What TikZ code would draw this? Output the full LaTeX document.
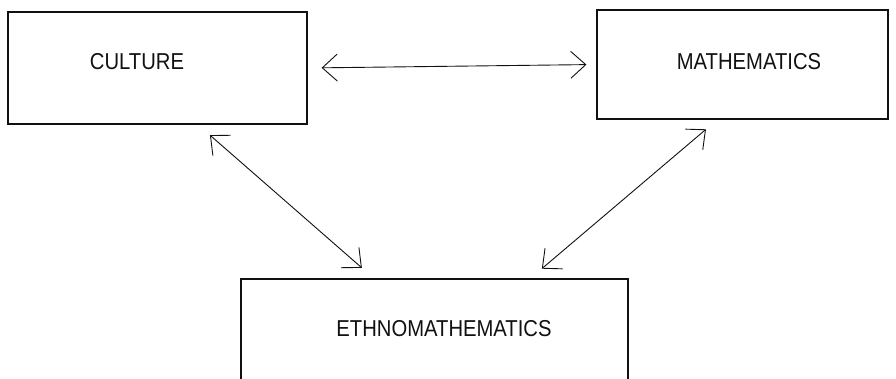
\documentclass[tikz,border=0pt]{standalone}
\usepackage{fontspec}
\setmainfont[FakeStretch=0.88]{Liberation Sans}
\usepackage{tikz}
\usetikzlibrary{arrows.meta,positioning,calc}
\definecolor{Ink}{HTML}{111111}
\tikzset{
  box/.style={draw=Ink,line width=1.2pt,fill=white,inner sep=0pt},
  lbl/.style={font=\fontsize{23}{26}\selectfont,text=Ink,inner sep=0pt},
  both/.style={{Straight Barb[length=15pt,width=27pt]}-{Straight Barb[length=15pt,width=27pt]},line width=0.9pt,draw=Ink}
}
\begin{document}
\begin{tikzpicture}[x=1pt,y=1pt]
\useasboundingbox (0,0) rectangle (896,379);
% boxes
\node[box,minimum width=299pt,minimum height=112pt] (culture) at (157.5,311) {};
\node[box,minimum width=291pt,minimum height=109pt] (math) at (742.5,314.5) {};
\node[box,minimum width=387pt,minimum height=111pt] (ethno) at (434.5,44.5) {};
\node[lbl] (cultureT) at (137,317) {CULTURE};
\node[lbl] (mathT) at (749,317.5) {MATHEMATICS};
\node[lbl] (ethnoT) at (444,50) {ETHNOMATHEMATICS};
% points on the borders
\coordinate (cuB) at ($(culture.south west)+(190.5,0)$);
\coordinate (etL) at ($(ethno.north west)+(133.5,0)$);
\coordinate (maB) at ($(math.south west)+(121,0)$);
\coordinate (etR) at ($(ethno.north west)+(290,0)$);
% links
\draw[both,shorten <=14pt,shorten >=10pt] (culture.east) -- (math.west);
\draw[both,shorten <=16pt,shorten >=16pt] (cuB) -- (etL);
\draw[both,shorten <=15pt,shorten >=15pt] (maB) -- (etR);
\end{tikzpicture}
\end{document}
